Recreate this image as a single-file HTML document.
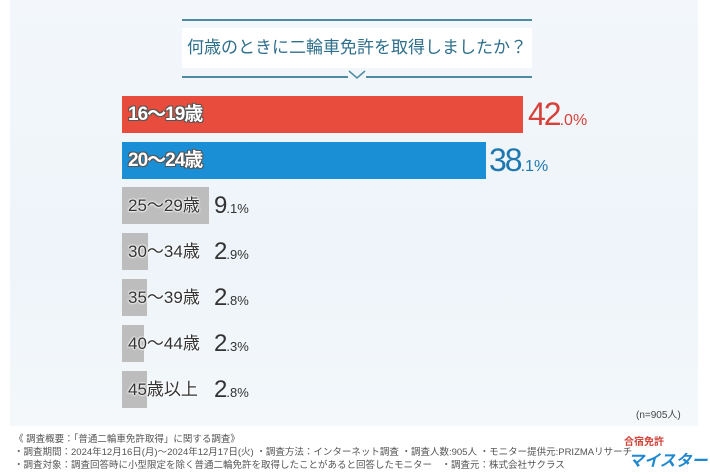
<!DOCTYPE html>
<html><head><meta charset="utf-8"><style>
*{margin:0;padding:0;box-sizing:border-box}
body{width:710px;height:474px;background:#fff;position:relative;overflow:hidden;font-family:"Liberation Sans","Noto Sans CJK JP",sans-serif}
.bg{position:absolute;left:10px;top:0;width:688px;height:426px;background:linear-gradient(180deg,#f3f7fb,#eef4f9 60%,#f4f8fb)}
.ln{position:absolute;height:2px;background:#4d8ca0}
.title{position:absolute;left:182px;top:28px;width:350px;text-align:center;font-size:17px;color:#2e6f8c;background:#fff;height:40px;line-height:40px}
.bar{position:absolute;left:122px;height:37px}
.lab{position:absolute;left:128px;font-size:19px;color:#fff;font-weight:bold;line-height:37px;letter-spacing:-1px;text-shadow:-1px -1px 0 #555,1px -1px 0 #555,-1px 1px 0 #555,1px 1px 0 #555}
.glab{position:absolute;left:128px;font-size:17px;color:#333;line-height:37px;text-shadow:0 0 2px #fff,0 0 2px #fff,0 0 2px #fff}
.pct{position:absolute;line-height:37px;font-size:32px;letter-spacing:-2px}
.pct small{font-size:16px;letter-spacing:0}
.gp{position:absolute;left:214px;line-height:37px;font-size:24px;color:#333;letter-spacing:-1px}
.gp small{font-size:13px;letter-spacing:0}
.foot{position:absolute;left:14px;font-size:9.5px;color:#555;white-space:nowrap}
</style></head><body>
<div class="bg"></div>
<div class="ln" style="left:182px;top:19px;width:350px"></div>
<div class="title">何歳のときに二輪車免許を取得しましたか？</div>
<div class="ln" style="left:182px;top:76px;width:166px"></div>
<div class="ln" style="left:366px;top:76px;width:166px"></div>
<svg style="position:absolute;left:347px;top:70px" width="20" height="10"><polyline points="2,1 10,8 18,1" fill="none" stroke="#4d8ca0" stroke-width="1.5"/></svg>

<div class="bar" style="top:96px;width:401px;background:#e84c3d"></div>
<div class="lab" style="top:96px">16～19歳</div>
<div class="pct" style="left:528px;top:96px;color:#d8403a">42<small>.0%</small></div>

<div class="bar" style="top:142px;width:364px;background:#1a8fd6"></div>
<div class="lab" style="top:142px">20～24歳</div>
<div class="pct" style="left:489px;top:142px;color:#1f78b0">38<small>.1%</small></div>

<div class="bar" style="top:187px;width:87px;background:#bdbdbd"></div>
<div class="glab" style="top:187px">25～29歳</div>
<div class="gp" style="top:187px">9<small>.1%</small></div>

<div class="bar" style="top:233px;width:26px;background:#bdbdbd"></div>
<div class="glab" style="top:233px">30～34歳</div>
<div class="gp" style="top:233px">2<small>.9%</small></div>

<div class="bar" style="top:279px;width:25px;background:#bdbdbd"></div>
<div class="glab" style="top:279px">35～39歳</div>
<div class="gp" style="top:279px">2<small>.8%</small></div>

<div class="bar" style="top:325px;width:22px;background:#bdbdbd"></div>
<div class="glab" style="top:325px">40～44歳</div>
<div class="gp" style="top:325px">2<small>.3%</small></div>

<div class="bar" style="top:371px;width:25px;background:#bdbdbd"></div>
<div class="glab" style="top:371px">45歳以上</div>
<div class="gp" style="top:371px">2<small>.8%</small></div>

<div style="position:absolute;left:636px;top:406px;font-size:10px;color:#444">(n=905人)</div>
<div class="foot" style="top:431px">《 調査概要：「普通二輪車免許取得」に関する調査》</div>
<div class="foot" style="top:444px">・調査期間：2024年12月16日(月)～2024年12月17日(火) ・調査方法：インターネット調査 ・調査人数:905人 ・モニター提供元:PRIZMAリサーチ</div>
<div class="foot" style="top:457px">・調査対象：調査回答時に小型限定を除く普通二輪免許を取得したことがあると回答したモニター　・調査元：株式会社サクラス</div>
<div style="position:absolute;left:624px;top:433px;font-size:10px;color:#d0443a;font-weight:bold">合宿免許</div>
<div style="position:absolute;left:628px;top:447px;font-size:16px;color:#1e88d0;font-weight:bold;font-style:italic">マイスター</div>
</body></html>
